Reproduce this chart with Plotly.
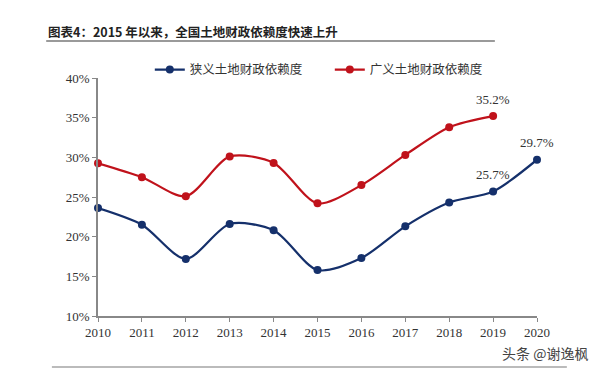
import plotly.graph_objects as go

years = [2010, 2011, 2012, 2013, 2014, 2015, 2016, 2017, 2018, 2019, 2020]
year_labels = [str(y) for y in years]
narrow = [23.6, 21.5, 17.2, 21.6, 20.8, 15.8, 17.3, 21.3, 24.3, 25.7, 29.7]
broad_years = [2010, 2011, 2012, 2013, 2014, 2015, 2016, 2017, 2018, 2019]
broad = [29.25, 27.5, 25.1, 30.1, 29.3, 24.2, 26.5, 30.3, 33.8, 35.2]
y_ticks = [10, 15, 20, 25, 30, 35, 40]
y_tick_labels = [f"{v}%" for v in y_ticks]

label_narrow = {2019: "25.7%", 2020: "29.7%"}
label_broad = {2019: "35.2%"}

blue = "#15306b"
red = "#c0121b"

fig = go.Figure()
fig.add_trace(go.Scatter(
    x=years, y=narrow, name="狭义土地财政依赖度", mode="lines+markers",
    line=dict(color=blue, width=2.2, shape="spline", smoothing=0.8),
    marker=dict(color=blue, size=8), cliponaxis=False))
fig.add_trace(go.Scatter(
    x=broad_years, y=broad, name="广义土地财政依赖度", mode="lines+markers",
    line=dict(color=red, width=2.2, shape="spline", smoothing=0.8),
    marker=dict(color=red, size=8), cliponaxis=False))

lab_font = dict(family="Liberation Serif, Times New Roman, serif", size=13, color="#333")
for yr, txt in label_narrow.items():
    fig.add_annotation(x=yr, y=narrow[years.index(yr)], text=txt, showarrow=False,
                       yshift=17, font=lab_font)
for yr, txt in label_broad.items():
    fig.add_annotation(x=yr, y=broad[broad_years.index(yr)], text=txt, showarrow=False,
                       yshift=17, font=lab_font)

# title
fig.add_annotation(xref="paper", yref="paper", x=-0.118, y=1.197, xanchor="left", yanchor="middle",
                   text="<b>图表4：2015 年以来，全国土地财政依赖度快速上升</b>", showarrow=False,
                   font=dict(family="Noto Sans CJK SC", size=12.5, color="#222"))
fig.add_shape(type="line", xref="paper", yref="paper", x0=-0.118, x1=0.904, y0=1.155, y1=1.155,
              line=dict(color="#9a9a9a", width=2))
fig.add_shape(type="line", xref="paper", yref="paper", x0=-0.105, x1=1.068, y0=-0.214, y1=-0.214,
              line=dict(color="#bbbbbb", width=2))
fig.add_annotation(xref="paper", yref="paper", x=1.12, y=-0.155, xanchor="right", yanchor="middle",
                   text="头条 @谢逸枫", showarrow=False,
                   font=dict(family="Noto Sans CJK SC", size=14, color="#444"))

axis_font = dict(family="Liberation Serif, Times New Roman, serif", size=13, color="#333")
fig.update_xaxes(range=[2010, 2020], tickvals=years, ticktext=year_labels, showline=True,
                 linecolor="#888", linewidth=1.5, ticks="outside", ticklen=4, tickcolor="#888",
                 showgrid=False, zeroline=False, tickfont=axis_font)
fig.update_yaxes(range=[10, 40], tickvals=y_ticks, ticktext=y_tick_labels, showline=True,
                 linecolor="#888", linewidth=1.5, ticks="outside", ticklen=4, tickcolor="#888",
                 showgrid=False, zeroline=False, tickfont=axis_font)

fig.update_layout(
    width=600, height=369, plot_bgcolor="white", paper_bgcolor="white",
    margin=dict(l=90, r=71, t=70, b=61),
    legend=dict(orientation="h", x=0.118, y=1.034, xanchor="left", yanchor="middle",
                font=dict(family="Noto Sans CJK SC", size=12.5, color="#333"),
                bgcolor="rgba(0,0,0,0)", itemwidth=30, tracegroupgap=0, entrywidth=135),
    showlegend=True,
)

fig.write_html("out.html")
